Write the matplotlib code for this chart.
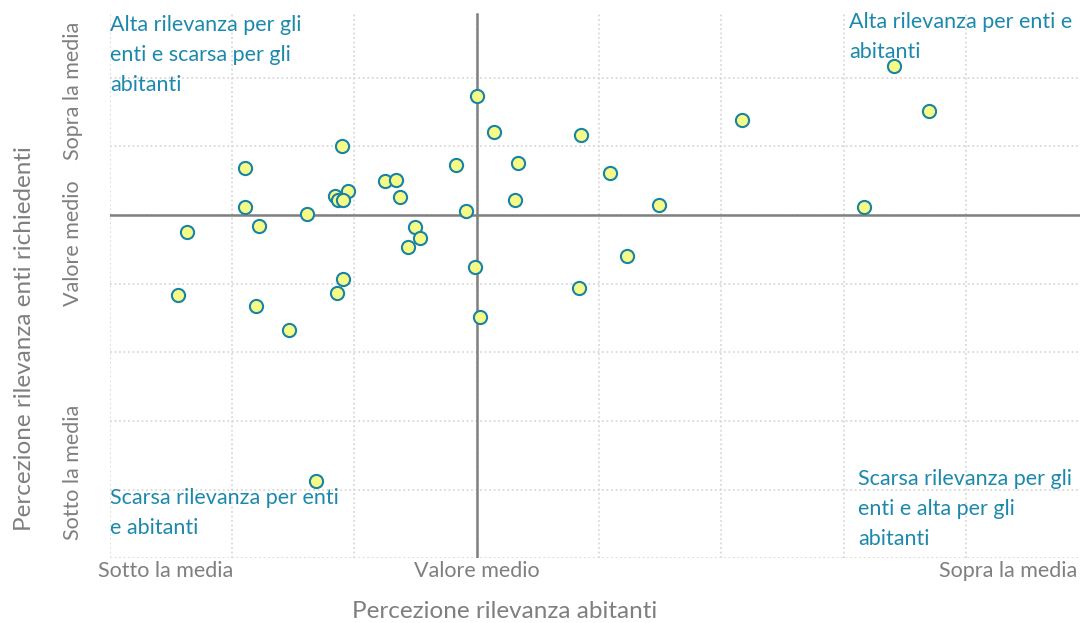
import matplotlib.pyplot as plt

# Perceived relevance: x = residents (abitanti), y = requesting bodies (enti richiedenti)
# values in units of the grid (0 = average)
abitanti = [
    3.41, 3.70, 2.17, 3.17, 0.00, 0.14, 0.85, 0.34, 1.09, 0.31,
    1.49, -0.17, -0.09, -1.10, -1.89, -1.89, -1.78, -2.37, -1.39, -1.16,
    -1.05, -1.13, -1.09, -0.75, -0.66, -0.63, -0.50, -0.46, -0.56, -0.01,
    0.84, 1.23, -1.09, -1.14, -2.44, -1.80, -1.53, 0.03, -1.31,
]
enti = [
    2.17, 1.52, 1.38, 0.12, 1.73, 1.20, 1.17, 0.76, 0.61, 0.21,
    0.14, 0.73, 0.05, 1.00, 0.68, 0.12, -0.16, -0.25, 0.01, 0.27,
    0.35, 0.21, 0.21, 0.49, 0.51, 0.26, -0.18, -0.34, -0.46, -0.76,
    -1.06, -0.60, -0.94, -1.13, -1.16, -1.32, -1.67, -1.48, -3.88,
]

x_tick_pos = [-2.54, 0.0, 4.35]
x_tick_labels = ["Sotto la media", "Valore medio", "Sopra la media"]
y_tick_pos = [-3.75, -0.41, 1.81]
y_tick_labels = ["Sotto la media", "Valore medio", "Sopra la media"]

quadrant_labels = [
    "Alta rilevanza per gli\nenti e scarsa per gli\nabitanti",
    "Alta rilevanza per enti e\nabitanti",
    "Scarsa rilevanza per enti\ne abitanti",
    "Scarsa rilevanza per gli\nenti e alta per gli\nabitanti",
]

TEAL = "#1C89AC"
GREY = "#7F7F7F"

plt.rcParams["font.family"] = ["Lato", "DejaVu Sans"]

W, H = 1080, 623
fig = plt.figure(figsize=(W / 100, H / 100), dpi=100)
# right edge of the plot runs past the picture, as in the reference
ax = fig.add_axes([109.7 / W, 1 - 558.3 / H, 978.4 / W, 545.3 / H])

ax.set_xlim(-3, 5)
ax.set_ylim(-5, 2.94)

ax.xaxis.remove_overlapping_locs = False
ax.yaxis.remove_overlapping_locs = False

ax.set_xticks(range(-3, 6))
ax.set_yticks(range(-5, 3))
ax.tick_params(which="major", length=0, labelbottom=False, labelleft=False)
ax.grid(True, which="major", color="#D9D9D9", linestyle=(0, (1, 1.5)), linewidth=1.3)
ax.set_axisbelow(True)

ax.set_xticks(x_tick_pos, x_tick_labels, minor=True)
ax.set_yticks(y_tick_pos, y_tick_labels, minor=True)
ax.tick_params(which="minor", length=0, labelsize=15.5, labelcolor=GREY)
ax.tick_params(axis="x", which="minor", pad=2)
ax.tick_params(axis="y", which="minor", pad=19)
for lab in ax.get_yticklabels(minor=True):
    lab.set_rotation(90)
    lab.set_va("center")

for side in ("top", "right", "bottom", "left"):
    ax.spines[side].set_visible(False)

ax.axhline(0, color="#808080", linewidth=1.8, zorder=2)
ax.axvline(0, ymax=0.998, color="#808080", linewidth=1.8, zorder=2)

ax.scatter(abitanti, enti, s=90, facecolor="#F6FA86", edgecolor="#1883A6",
           linewidth=1.5, zorder=3)

ax.set_xlabel("Percezione rilevanza abitanti", fontsize=17.5, color=GREY, va="center")
ax.xaxis.set_label_coords((505 - 109.7) / 978.4, (558.3 - 612) / 545.3)
ax.set_ylabel("Percezione rilevanza enti richiedenti", fontsize=17.5, color=GREY, va="center")
ax.yaxis.set_label_coords((25 - 109.7) / 978.4, (558.3 - 339) / 545.3)

quad_pos = [(110, 15), (849, 12), (110, 488), (858, 469)]
for (px, py), txt in zip(quad_pos, quadrant_labels):
    fig.text(px / W, 1 - py / H, txt, ha="left", va="top", fontsize=15.5,
             color=TEAL, linespacing=1.63)

fig.savefig("out.png", dpi=100)
